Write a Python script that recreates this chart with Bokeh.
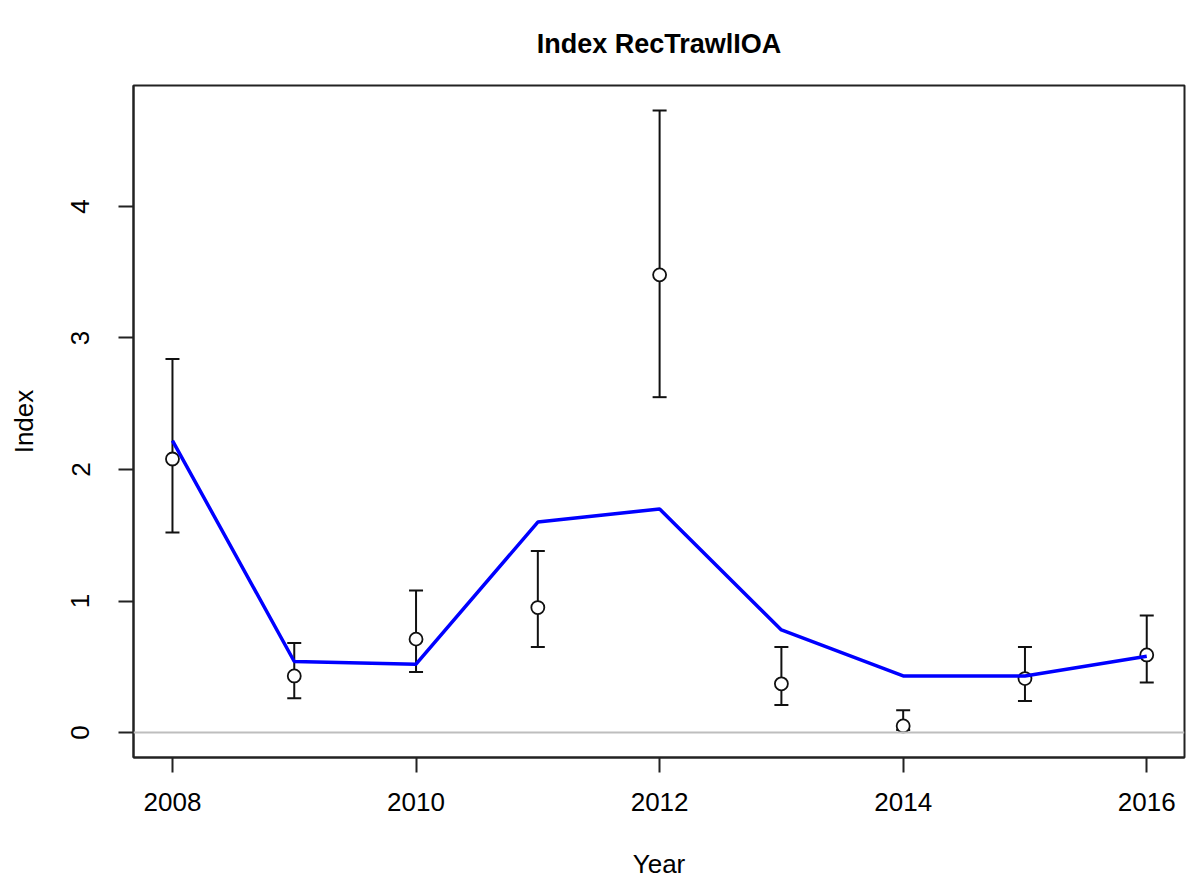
from bokeh.plotting import figure
from bokeh.models import ColumnDataSource, Whisker, TeeHead, FixedTicker, Span, Range1d
from bokeh.embed import file_html
from bokeh.resources import INLINE

years = [2008, 2009, 2010, 2011, 2012, 2013, 2014, 2015, 2016]
obs = [2.08, 0.43, 0.71, 0.95, 3.48, 0.37, 0.05, 0.41, 0.59]
upper = [2.84, 0.68, 1.08, 1.38, 4.73, 0.65, 0.17, 0.65, 0.89]
lower = [1.52, 0.26, 0.46, 0.65, 2.55, 0.21, 0.02, 0.24, 0.38]
expected = [2.22, 0.54, 0.52, 1.60, 1.70, 0.78, 0.43, 0.43, 0.58]
x_ticks = [2008, 2010, 2012, 2014, 2016]
y_ticks = [0, 1, 2, 3, 4]
title_text = "Index RecTrawlIOA"

src = ColumnDataSource(dict(year=years, obs=obs, upper=upper, lower=lower, expected=expected))

FONT = "Liberation Sans"

# frame: x 133..1184, y 85..757 in picture pixels
p = figure(width=1186, height=884, output_backend="svg", toolbar_location=None,
           x_range=Range1d(2007.68, 2016.31), y_range=Range1d(-0.19, 4.92),
           title=title_text,
           min_border_left=133, min_border_right=2, min_border_top=85, min_border_bottom=127)

p.title.align = "center"
p.title.vertical_align = "top"
p.title.text_font = FONT
p.title.text_font_size = "27px"
p.title.text_font_style = "bold"
p.title.text_color = "black"
p.title.standoff = 50

p.xgrid.visible = False
p.ygrid.visible = False
p.outline_line_color = "#222222"
p.outline_line_width = 2
p.background_fill_color = "white"
p.border_fill_color = "white"

for ax in (p.xaxis[0], p.yaxis[0]):
    ax.axis_line_color = "#222222"
    ax.axis_line_width = 2
    ax.major_tick_line_color = "#222222"
    ax.major_tick_line_width = 2
    ax.major_tick_out = 15
    ax.major_tick_in = 0
    ax.minor_tick_line_color = None
    ax.major_label_text_font = FONT
    ax.major_label_text_font_size = "26px"
    ax.major_label_text_color = "black"
    ax.axis_label_text_font = FONT
    ax.axis_label_text_font_size = "26px"
    ax.axis_label_text_font_style = "normal"
    ax.axis_label_text_color = "black"

p.xaxis.ticker = FixedTicker(ticks=x_ticks)
p.yaxis.ticker = FixedTicker(ticks=y_ticks)
p.xaxis.axis_label = "Year"
p.yaxis.axis_label = "Index"
p.yaxis.major_label_orientation = "vertical"
p.xaxis.major_label_standoff = 20
p.yaxis.major_label_standoff = 29
p.xaxis.axis_label_standoff = 35
p.yaxis.axis_label_standoff = 30

p.add_layout(Span(location=0, dimension="width", line_color="#bebebe", line_width=2))

w = Whisker(source=src, base="year", upper="upper", lower="lower",
            line_color="#111111", line_width=2,
            upper_head=TeeHead(size=14, line_color="#111111", line_width=2),
            lower_head=TeeHead(size=14, line_color="#111111", line_width=2))
p.add_layout(w)

p.scatter("year", "obs", source=src, size=13, fill_color="white",
          line_color="#111111", line_width=1.8)

p.line("year", "expected", source=src, line_color="blue", line_width=3.5)

open("out.html", "w").write(file_html(p, INLINE))
